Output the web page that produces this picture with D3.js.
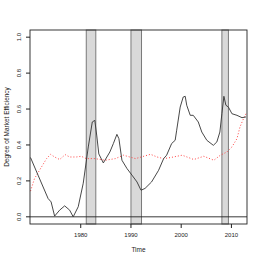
<!DOCTYPE html>
<html><head><meta charset="utf-8">
<script src="https://cdn.jsdelivr.net/npm/d3@7"></script>
<style>body{margin:0;background:#fff}svg text{font-family:"Liberation Sans",Arial,sans-serif}</style>
</head><body><svg id="c" width="262" height="262"></svg>
<script>
const blackYears=[1970.1,1971.6,1973.6,1974.2,1974.9,1975.9,1976.9,1977.9,1978.6,1979.6,1980.6,1981.6,1982.4,1982.9,1983.3,1983.7,1984.6,1985.9,1986.6,1987.3,1987.7,1988.3,1989.3,1990.3,1991.3,1992.1,1992.9,1994.2,1995.6,1996.6,1997.2,1998.2,1998.9,1999.2,1999.9,2000.5,2000.9,2001.2,2001.9,2002.5,2003.5,2004.2,2005.2,2006.5,2007.2,2007.8,2008.2,2008.6,2009.0,2009.5,2010.2,2011.2,2012.2,2013.0];
const blackValues=[0.33,0.232,0.102,0.083,0.004,0.037,0.061,0.037,0.0,0.056,0.187,0.389,0.528,0.537,0.45,0.35,0.30,0.361,0.408,0.459,0.435,0.315,0.269,0.232,0.194,0.148,0.158,0.194,0.259,0.324,0.343,0.408,0.426,0.482,0.611,0.667,0.671,0.621,0.565,0.565,0.528,0.472,0.426,0.398,0.417,0.472,0.574,0.671,0.621,0.611,0.574,0.565,0.552,0.556];
const redYears=[1970.1,1970.9,1972.3,1973.3,1974.1,1974.9,1975.9,1977.0,1977.9,1979.2,1980.2,1981.2,1982.9,1985.0,1987.0,1988.6,1991.0,1994.0,1995.3,1996.6,1998.0,2000.3,2002.6,2004.6,2006.6,2007.9,2009.2,2010.2,2011.2,2011.8,2012.5,2013.0];
const redValues=[0.143,0.213,0.278,0.324,0.348,0.333,0.319,0.346,0.333,0.333,0.337,0.324,0.324,0.315,0.324,0.343,0.324,0.348,0.333,0.324,0.33,0.343,0.319,0.337,0.315,0.343,0.361,0.389,0.435,0.5,0.546,0.574];
const recessionStart=[1981.2,1990.1,2008.2];
const recessionEnd=[1983.1,1992.2,2009.5];
const xTicks=[1980,1990,2000,2010];
const yTicks=[0,0.2,0.4,0.6,0.8,1.0];

const svg=d3.select("#c");
const L=30,R=247,T=30,B=224;
const x=d3.scaleLinear().domain([1970,2013.2]).range([L,R]);
const y=d3.scaleLinear().domain([-0.04,1.04]).range([B,T]);

// recession bands
recessionStart.forEach((s,i)=>{
  svg.append("rect").attr("x",x(s)).attr("y",T).attr("width",x(recessionEnd[i])-x(s)).attr("height",B-T)
    .attr("fill","#d9d9d9").attr("stroke","#7a7a7a").attr("stroke-width",1);
});
// h=0 line
svg.append("line").attr("x1",L).attr("x2",R).attr("y1",y(0)).attr("y2",y(0)).attr("stroke","#222").attr("stroke-width",0.9);

const line=d3.line().x(d=>x(d[0])).y(d=>y(d[1]));
svg.append("path").datum(redYears.map((v,i)=>[v,redValues[i]])).attr("d",line)
  .attr("fill","none").attr("stroke","#ff4444").attr("stroke-width",1).attr("stroke-dasharray","1,2");
svg.append("path").datum(blackYears.map((v,i)=>[v,blackValues[i]])).attr("d",line)
  .attr("fill","none").attr("stroke","#333").attr("stroke-width",0.9);

// frame
svg.append("rect").attr("x",L).attr("y",T).attr("width",R-L).attr("height",B-T).attr("fill","none").attr("stroke","#222").attr("stroke-width",0.9);

// axes
const xa=svg.append("g").attr("transform",`translate(0,${B})`).call(d3.axisBottom(x).tickValues(xTicks).tickSize(4).tickFormat(d3.format("d")));
const ya=svg.append("g").attr("transform",`translate(${L},0)`).call(d3.axisLeft(y).tickValues(yTicks).tickSize(4).tickFormat(d3.format(".1f")));
[xa,ya].forEach(a=>{a.select(".domain").remove();a.selectAll("line").attr("stroke","#222");a.selectAll("text").attr("font-size",6).attr("fill","#222").attr("font-family","Liberation Sans, Arial, sans-serif");});
xa.selectAll("text").attr("dy",null).attr("y",13);
ya.selectAll("text").attr("x",null).attr("dy",null).attr("text-anchor","middle")
  .attr("transform",d=>`translate(-9,${y(d)}) rotate(-90)`).attr("y",0).attr("dx",null);
ya.selectAll(".tick").attr("transform",d=>`translate(0,0)`);
ya.selectAll(".tick line").attr("y1",d=>y(d)).attr("y2",d=>y(d));

svg.append("text").attr("x",(L+R)/2).attr("y",252).attr("text-anchor","middle").attr("font-size",6.5).attr("fill","#222").text("Time");
svg.append("text").attr("transform",`translate(9,${(T+B)/2}) rotate(-90)`).attr("text-anchor","middle").attr("font-size",6.5).attr("fill","#222").text("Degree of Market Efficiency");
</script></body></html>
